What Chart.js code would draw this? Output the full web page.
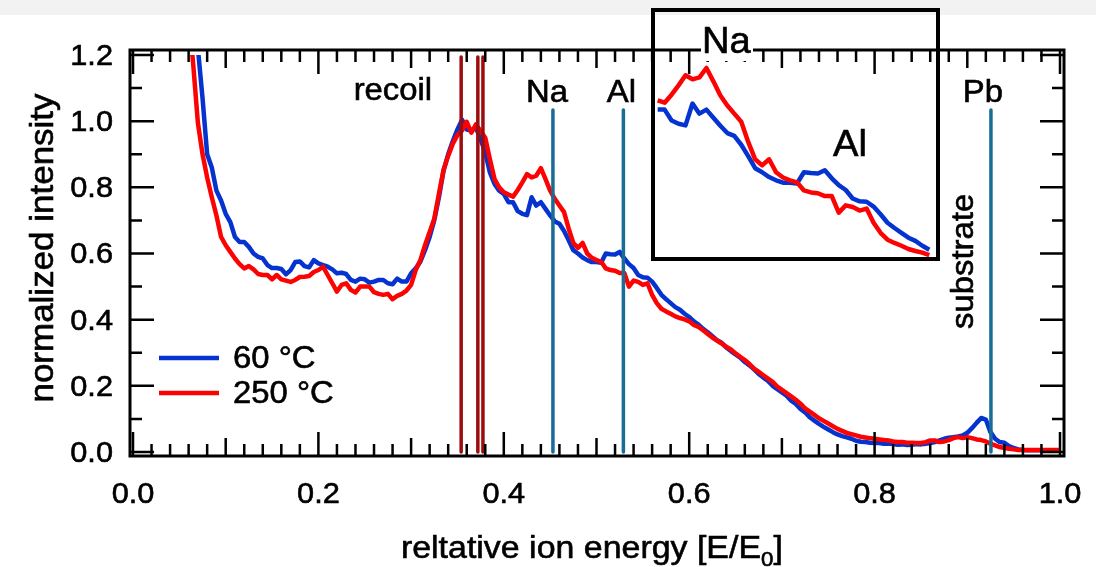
<!DOCTYPE html>
<html>
<head>
<meta charset="utf-8">
<title>Ion energy spectra</title>
<script src="https://cdn.jsdelivr.net/npm/chart.js@4.4.1/dist/chart.umd.min.js"></script>
<style>
  html, body { margin: 0; padding: 0; background: #fff; }
  #wrap { position: relative; width: 1096px; height: 567px; }
  #spectrum { position: absolute; left: 0; top: 0; }
  #zoom { position: absolute; left: 650px; top: 7px; }
</style>
</head>
<body>
<div id="wrap">
  <canvas id="spectrum" width="1096" height="567"></canvas>
  <canvas id="zoom" width="291" height="255"></canvas>
</div>
<script>
// energy grid, E/E0
const energy = [
  0.060, 0.065, 0.070, 0.075, 0.080, 0.085, 0.090, 0.095,
  0.100, 0.105, 0.110, 0.115, 0.120, 0.125, 0.130, 0.135, 0.140, 0.145,
  0.150, 0.155, 0.160, 0.165, 0.170, 0.175, 0.180, 0.185, 0.190, 0.195,
  0.200, 0.205, 0.210, 0.215, 0.220, 0.225, 0.230, 0.235, 0.240, 0.245,
  0.250, 0.255, 0.260, 0.265, 0.270, 0.275, 0.280, 0.285, 0.290, 0.295,
  0.300, 0.305, 0.310, 0.315, 0.320, 0.325, 0.330, 0.335, 0.340, 0.345,
  0.350, 0.355, 0.360, 0.365, 0.370, 0.375, 0.380, 0.385, 0.390, 0.395,
  0.400, 0.405, 0.410, 0.415, 0.420, 0.425, 0.430, 0.435, 0.440, 0.445,
  0.450, 0.455, 0.460, 0.465, 0.470, 0.475, 0.480, 0.485, 0.490, 0.495,
  0.500, 0.505, 0.510, 0.515, 0.520, 0.525, 0.530, 0.535, 0.540, 0.545,
  0.550, 0.555, 0.560, 0.565, 0.570, 0.575, 0.580, 0.585, 0.590, 0.595,
  0.600, 0.605, 0.610, 0.615, 0.620, 0.625, 0.630, 0.635, 0.640, 0.645,
  0.650, 0.655, 0.660, 0.665, 0.670, 0.675, 0.680, 0.685, 0.690, 0.695,
  0.700, 0.705, 0.710, 0.715, 0.720, 0.725, 0.730, 0.735, 0.740, 0.745,
  0.750, 0.755, 0.760, 0.765, 0.770, 0.775, 0.780, 0.785, 0.790, 0.795,
  0.800, 0.805, 0.810, 0.815, 0.820, 0.825, 0.830, 0.835, 0.840, 0.845,
  0.850, 0.855, 0.860, 0.865, 0.870, 0.875, 0.880, 0.885, 0.890, 0.895,
  0.900, 0.905, 0.910, 0.915, 0.920, 0.925, 0.930, 0.935, 0.940, 0.945,
  0.950, 0.955, 0.960, 0.965, 0.970, 0.975, 0.980, 0.985, 0.990, 0.995, 1.000
];

const intensity60 = [
  1.45, 1.33, 1.22, 1.07, 0.90, 0.86, 0.79, 0.76,
  0.72, 0.695, 0.65, 0.635, 0.635, 0.62, 0.60, 0.59, 0.585, 0.565,
  0.556, 0.556, 0.553, 0.537, 0.55, 0.574, 0.576, 0.562, 0.558, 0.58,
  0.57, 0.565, 0.56, 0.552, 0.54, 0.542, 0.538, 0.52, 0.515, 0.524,
  0.522, 0.512, 0.515, 0.52, 0.52, 0.51, 0.507, 0.524, 0.515, 0.515,
  0.54, 0.555, 0.575, 0.61, 0.65, 0.70, 0.77, 0.85, 0.90, 0.94,
  0.975, 1.004, 0.975, 0.972, 0.98, 0.945, 0.905, 0.845, 0.81, 0.79,
  0.78, 0.755, 0.755, 0.728, 0.72, 0.716, 0.77, 0.745, 0.755, 0.735,
  0.715, 0.697, 0.69, 0.668, 0.64, 0.61, 0.60, 0.588, 0.58, 0.574,
  0.574, 0.572, 0.60, 0.598, 0.597, 0.605, 0.585, 0.568, 0.556, 0.535,
  0.528, 0.527, 0.515, 0.496, 0.475, 0.462, 0.45, 0.438, 0.43, 0.418,
  0.408, 0.395, 0.385, 0.372, 0.362, 0.35, 0.338, 0.33, 0.316, 0.305,
  0.295, 0.285, 0.272, 0.262, 0.25, 0.236, 0.225, 0.215, 0.20, 0.19,
  0.18, 0.17, 0.155, 0.145, 0.13, 0.12, 0.105, 0.095, 0.085, 0.076,
  0.068, 0.06, 0.053, 0.048, 0.044, 0.04, 0.034, 0.031, 0.03, 0.028,
  0.027, 0.027, 0.025, 0.026, 0.024, 0.022, 0.023, 0.021, 0.022, 0.024,
  0.023, 0.025, 0.027, 0.03, 0.035, 0.04, 0.043, 0.045, 0.047, 0.05,
  0.058, 0.072, 0.088, 0.103, 0.098, 0.06, 0.04, 0.03, 0.028, 0.018,
  0.012, 0.008, 0.006, 0.005, 0.005, 0.005, 0.005, 0.005, 0.005, 0.005, 0.005
];

const intensity250 = [
  1.33, 1.17, 0.995, 0.90, 0.83, 0.77, 0.715, 0.65,
  0.625, 0.605, 0.585, 0.568, 0.555, 0.562, 0.552, 0.538, 0.535, 0.535,
  0.522, 0.535, 0.522, 0.518, 0.514, 0.52, 0.529, 0.53, 0.532, 0.544,
  0.55, 0.56, 0.535, 0.51, 0.485, 0.505, 0.51, 0.49, 0.482, 0.50,
  0.50, 0.50, 0.483, 0.478, 0.475, 0.478, 0.462, 0.472, 0.478, 0.488,
  0.505, 0.55, 0.58, 0.625, 0.665, 0.705, 0.78, 0.853, 0.895, 0.932,
  0.958, 0.972, 0.998, 0.965, 0.99, 0.97, 0.95, 0.885, 0.825, 0.80,
  0.785, 0.778, 0.772, 0.792, 0.815, 0.84, 0.83, 0.835, 0.858, 0.825,
  0.79, 0.765, 0.745, 0.725, 0.675, 0.632, 0.617, 0.632, 0.60, 0.587,
  0.58, 0.575, 0.555, 0.55, 0.548, 0.541, 0.541, 0.50, 0.518, 0.514,
  0.505, 0.51, 0.475, 0.45, 0.433, 0.425, 0.418, 0.41, 0.405, 0.401,
  0.395, 0.384, 0.378, 0.368, 0.357, 0.346, 0.337, 0.328, 0.318, 0.31,
  0.298, 0.288, 0.278, 0.266, 0.252, 0.242, 0.232, 0.222, 0.212, 0.198,
  0.188, 0.178, 0.168, 0.158, 0.146, 0.132, 0.122, 0.112, 0.102, 0.094,
  0.086, 0.078, 0.07, 0.064, 0.058, 0.054, 0.05, 0.046, 0.044, 0.042,
  0.04, 0.038, 0.036, 0.035, 0.032, 0.03, 0.03, 0.028, 0.028, 0.027,
  0.027, 0.03, 0.035, 0.035, 0.03, 0.032, 0.036, 0.042, 0.045, 0.042,
  0.045, 0.042, 0.038, 0.036, 0.032, 0.025, 0.02, 0.015, 0.012, 0.01,
  0.008, 0.006, 0.006, 0.006, 0.006, 0.006, 0.006, 0.006, 0.006, 0.006, 0.006
];

const xTickLabels = ['0.0', '0.2', '0.4', '0.6', '0.8', '1.0'];
const yTickLabels = ['0.0', '0.2', '0.4', '0.6', '0.8', '1.0', '1.2'];

// kinematic markers
const recoilEdges = [0.354, 0.372, 0.3775];
const elementEdges = [0.453, 0.529, 0.9255];
const elementNames = ['Na', 'Al', 'Pb'];

const FONT = '"Liberation Sans", Arial, sans-serif';
const WIDEN = 1.06;   // glyphs set a little wider than plain Arial

const BLUE = '#0533cf';
const RED = '#fd0202';
const EDGE_RED = '#9c0d0d';
const EDGE_BLUE = '#186c96';

function put(ctx, str, x, y, size, align, angle) {
  ctx.save();
  ctx.translate(x, y);
  if (angle) ctx.rotate(angle);
  ctx.scale(WIDEN, 1);
  ctx.font = size + 'px ' + FONT;
  ctx.fillStyle = '#000';
  ctx.strokeStyle = '#000';
  ctx.lineWidth = 0.6;
  ctx.textAlign = align || 'left';
  ctx.textBaseline = 'alphabetic';
  ctx.fillText(str, 0, 0);
  ctx.strokeText(str, 0, 0);
  ctx.restore();
}

function series(values, from, to) {
  return energy
    .map((e, i) => ({ x: e, y: values[i] }))
    .filter(p => p.x >= from && p.x <= to);
}

// frame, inward ticks, labels and legend of the main plot
const framePlugin = {
  id: 'frame',
  beforeDraw(chart) {
    const ctx = chart.ctx;
    ctx.save();
    ctx.fillStyle = '#fff';
    ctx.fillRect(0, 0, chart.width, chart.height);
    ctx.fillStyle = '#f2f2f2';
    ctx.fillRect(0, 0, chart.width, 15);
    ctx.restore();
  },
  afterDatasetsDraw(chart) {
    const ctx = chart.ctx;
    const a = chart.chartArea;
    const xs = chart.scales.x, ys = chart.scales.y;

    ctx.save();
    ctx.strokeStyle = '#000';
    ctx.lineCap = 'butt';

    // ticks on all four sides
    ctx.lineWidth = 2.5;
    ctx.beginPath();
    for (let i = 0; i <= 50; i++) {
      const px = xs.getPixelForValue(i / 50);
      const len = i % 10 === 0 ? 24 : (i % 5 === 0 ? 18 : 12);
      ctx.moveTo(px, a.bottom); ctx.lineTo(px, a.bottom - len);
      ctx.moveTo(px, a.top); ctx.lineTo(px, a.top + len);
    }
    for (let i = 0; i <= 12; i++) {
      const py = ys.getPixelForValue(i / 10);
      const len = i % 2 === 0 ? 24 : 12;
      ctx.moveTo(a.left, py); ctx.lineTo(a.left + len, py);
      ctx.moveTo(a.right, py); ctx.lineTo(a.right - len, py);
    }
    ctx.stroke();

    ctx.lineWidth = 3;
    ctx.strokeRect(a.left, a.top, a.right - a.left, a.bottom - a.top);
    ctx.restore();

    // tick labels
    xTickLabels.forEach(t => {
      put(ctx, t, xs.getPixelForValue(parseFloat(t)), 503, 29, 'center');
    });
    yTickLabels.forEach(t => {
      put(ctx, t, a.left - 17, ys.getPixelForValue(parseFloat(t)) + 10, 29, 'right');
    });

    // axis titles
    put(ctx, 'normalized intensity', 53, 248, 33, 'center', -Math.PI / 2);
    ctx.save();
    ctx.translate(xs.getPixelForValue(0.495), 558);
    ctx.scale(WIDEN, 1);
    ctx.fillStyle = '#000';
    ctx.strokeStyle = '#000';
    ctx.lineWidth = 0.6;
    ctx.textBaseline = 'alphabetic';
    const head = 'reltative ion energy [E/E';
    ctx.font = '32px ' + FONT;
    const w1 = ctx.measureText(head).width;
    const w3 = ctx.measureText(']').width;
    ctx.font = '21px ' + FONT;
    const w2 = ctx.measureText('0').width;
    const x0 = -(w1 + w2 + w3) / 2;
    ctx.fillText('0', x0 + w1, 8);
    ctx.strokeText('0', x0 + w1, 8);
    ctx.font = '32px ' + FONT;
    ctx.fillText(head, x0, 0);
    ctx.strokeText(head, x0, 0);
    ctx.fillText(']', x0 + w1 + w2, 0);
    ctx.strokeText(']', x0 + w1 + w2, 0);
    ctx.restore();

    // marker names
    put(ctx, 'recoil', xs.getPixelForValue(recoilEdges[0]) - 29, 100, 31, 'right');
    const shift = [-6, -2, -8];
    elementNames.forEach((n, i) => {
      put(ctx, n, xs.getPixelForValue(elementEdges[i]) + shift[i], 102, 31, 'center');
    });
    put(ctx, 'substrate', xs.getPixelForValue(elementEdges[2]) - 18, 329, 31, 'left', -Math.PI / 2);

    // legend
    ctx.save();
    ctx.lineWidth = 4.5;
    [[BLUE, 358], [RED, 393]].forEach(([c, y]) => {
      ctx.strokeStyle = c;
      ctx.beginPath();
      ctx.moveTo(159, y); ctx.lineTo(219, y);
      ctx.stroke();
    });
    ctx.restore();
    put(ctx, '60 °C', 233, 368, 31, 'left');
    put(ctx, '250 °C', 233, 403, 31, 'left');
  }
};

const edgeSets = [
  ...recoilEdges.map(e => ({
    data: [{ x: e, y: 1.194 }, { x: e, y: 0 }],
    borderColor: EDGE_RED, borderWidth: 3.5, order: 0
  })),
  ...elementEdges.map(e => ({
    data: [{ x: e, y: 1.034 }, { x: e, y: 0 }],
    borderColor: EDGE_BLUE, borderWidth: 3.5, order: 0
  }))
];

const spectrum = new Chart(document.getElementById('spectrum'), {
  type: 'line',
  data: {
    datasets: [
      ...edgeSets,
      {
        label: '250 °C', data: series(intensity250, 0, 1),
        borderColor: RED, borderWidth: 4.5, order: 1,
        clip: { left: 0, top: -5, right: 0, bottom: 0 }
      },
      {
        label: '60 °C', data: series(intensity60, 0, 1),
        borderColor: BLUE, borderWidth: 4.5, order: 2,
        clip: { left: 0, top: -5, right: 0, bottom: 0 }
      }
    ]
  },
  options: {
    responsive: false,
    animation: false,
    devicePixelRatio: 1,
    events: [],
    layout: { padding: { left: 130, right: 32, top: 50, bottom: 111 } },
    elements: {
      point: { radius: 0 },
      line: { tension: 0, fill: false, borderJoinStyle: 'round' }
    },
    scales: {
      x: { type: 'linear', display: false, min: -0.003236, max: 1.004315 },
      y: { type: 'linear', display: false, min: -0.01209, max: 1.21511 }
    },
    plugins: { legend: { display: false }, tooltip: { enabled: false } }
  },
  plugins: [framePlugin]
});

// close-up of the Na / Al region
const insetPlugin = {
  id: 'insetFrame',
  afterDraw(chart) {
    const ctx = chart.ctx;
    ctx.save();
    ctx.fillStyle = '#fff';
    ctx.fillRect(51, 14, 52, 40);
    ctx.strokeStyle = '#000';
    ctx.lineWidth = 4;
    ctx.strokeRect(3, 3, chart.width - 6, chart.height - 6);
    ctx.restore();
    put(ctx, 'Na', 52, 46, 36, 'left');
    put(ctx, 'Al', 183, 149, 36, 'left');
  }
};

const inset = new Chart(document.getElementById('zoom'), {
  type: 'line',
  data: {
    datasets: [
      { data: series(intensity250, 0.404, 0.601), borderColor: RED, borderWidth: 4.5, order: 1 },
      { data: series(intensity60, 0.404, 0.601), borderColor: BLUE, borderWidth: 4.5, order: 2 }
    ]
  },
  options: {
    responsive: false,
    animation: false,
    devicePixelRatio: 1,
    events: [],
    layout: { padding: 0 },
    elements: {
      point: { radius: 0 },
      line: { tension: 0, fill: false, borderJoinStyle: 'round' }
    },
    scales: {
      x: { type: 'linear', display: false, min: 0.3995, max: 0.6084 },
      y: { type: 'linear', display: false, min: 0.3778, max: 1.009 }
    },
    plugins: { legend: { display: false }, tooltip: { enabled: false } }
  },
  plugins: [insetPlugin]
});
</script>
</body>
</html>
